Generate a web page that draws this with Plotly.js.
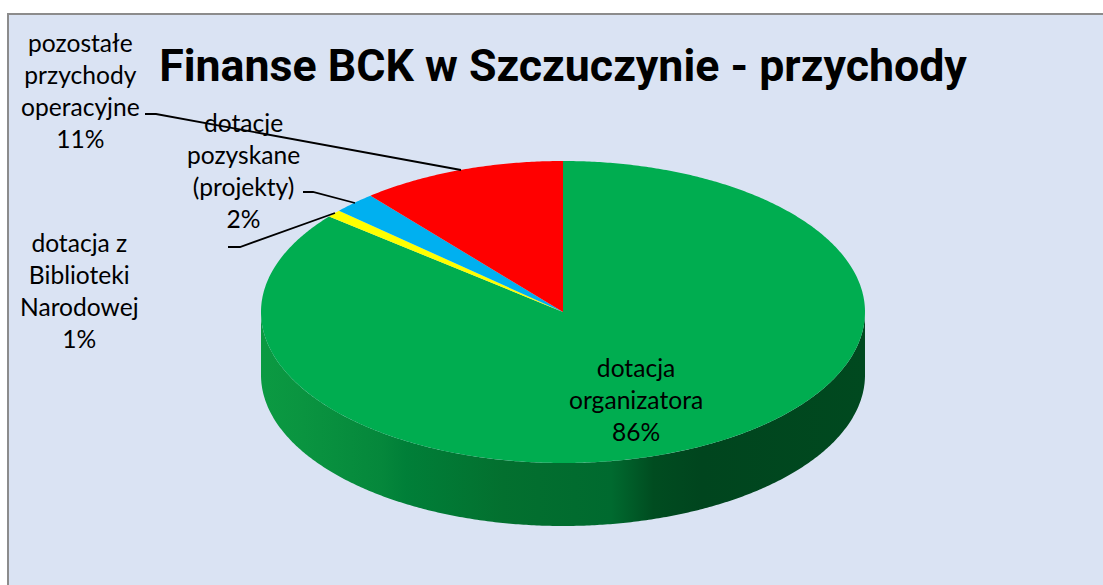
<!DOCTYPE html>
<html>
<head>
<meta charset="utf-8">
<script src="https://cdn.plot.ly/plotly-3.0.1.min.js"></script>
<style>html,body{margin:0;padding:0;background:#fff}#chart{width:1103px;height:585px}</style>
</head>
<body>
<div id="chart"></div>
<script>
// Data
const chartTitle = "Finanse BCK w Szczuczynie - przychody";
const categories = ["dotacja<br>organizatora", "dotacja z<br>Biblioteki<br>Narodowej", "dotacje<br>pozyskane<br>(projekty)", "pozostałe<br>przychody<br>operacyjne"];
const values = [85.9, 0.8, 2.3, 11.0];
const sliceColors = ["#00ad50", "#ffff00", "#00b0f0", "#ff0000"];
const labelX = [636, 79, 243, 80];
const labelY = [399, 290, 170, 90];

// Layout
const W = 1103, H = 585;
const cx = 563, cy = 312, rx = 302, ry = 151, depth = 63;
const total = values.reduce((a, b) => a + b, 0);
const pt = (deg, drop) => {
  const t = deg * Math.PI / 180;
  return [Math.sin(t), Math.cos(t) - drop];
};
const arc = (a0, a1, drop) => {
  const n = Math.max(2, Math.ceil(Math.abs(a1 - a0) * 2));
  const out = [];
  for (let i = 0; i <= n; i++) out.push(pt(a0 + (a1 - a0) * i / n, drop));
  return out;
};
const traces = [];
// Side wall (front half of the rim)
const d = depth / ry;
const wall = arc(90, 270, 0).concat(arc(270, 90, d));
traces.push({
  type: "scatter", mode: "none", fill: "toself", hoverinfo: "skip", showlegend: false,
  x: wall.map(p => p[0]), y: wall.map(p => p[1]),
  fillgradient: {
    type: "horizontal",
    colorscale: [[0, "#0b9a42"], [0.07, "#0a9440"], [0.2, "#05873b"], [0.24, "#007f38"], [0.4, "#03702f"], [0.58, "#006a2f"], [0.65, "#004c20"], [0.73, "#00451e"], [1, "#00491f"]]
  }
});
// Top face slices
let acc = 0;
values.forEach((v, i) => {
  const a0 = acc / total * 360, a1 = (acc + v) / total * 360;
  acc += v;
  const poly = [[0, 0]].concat(arc(a0, a1, 0), [[0, 0]]);
  traces.push({
    type: "scatter", mode: "none", fill: "toself", fillcolor: sliceColors[i],
    name: categories[i].replace(/<br>/g, " "), hoverinfo: "name", showlegend: false,
    x: poly.map(p => p[0]), y: poly.map(p => p[1])
  });
});

const percents = values.map(v => Math.round(v / total * 100) + "%");
const px = x => x / W, py = y => 1 - y / H;
const leader = pts => ({
  type: "path", xref: "paper", yref: "paper",
  path: pts.map((p, i) => (i ? "L" : "M") + px(p[0]) + "," + py(p[1])).join(" "),
  line: { color: "#000000", width: 1.8 }
});

const labelFont = { family: "Lato, Carlito, sans-serif", size: 24.6, color: "#000000" };
const layout = {
  width: W, height: H,
  margin: { l: 0, r: 0, t: 0, b: 0 },
  paper_bgcolor: "#ffffff", plot_bgcolor: "rgba(0,0,0,0)",
  showlegend: false,
  title: {
    text: "<b>" + chartTitle + "</b>",
    x: 563 / W, xanchor: "center", xref: "paper",
    y: 1 - 65 / H, yanchor: "middle", yref: "paper",
    font: { family: "Roboto, Inter, sans-serif", size: 44.7, color: "#000000" }
  },
  xaxis: { range: [-cx / rx, (W - cx) / rx], visible: false, fixedrange: true },
  yaxis: { range: [(cy - H) / ry, cy / ry], visible: false, fixedrange: true },
  shapes: [
    { type: "rect", xref: "paper", yref: "paper", layer: "below",
      x0: px(8), x1: px(W + 10), y0: py(14), y1: py(H + 10),
      fillcolor: "#dae3f3", line: { color: "#8c8c8c", width: 2 } },
    leader([[145, 114], [156, 114], [461, 170]]),
    leader([[303, 192], [313, 192], [355, 203]]),
    leader([[228, 247], [240, 247], [335, 213]])
  ],
  annotations: categories.map((c, i) => ({
    xref: "paper", yref: "paper",
    x: px(labelX[i]), y: py(labelY[i]),
    xanchor: "center", yanchor: "middle", align: "center", showarrow: false,
    text: c + "<br>" + percents[i], font: labelFont
  }))
};
Plotly.newPlot("chart", traces, layout, { displayModeBar: false, staticPlot: true });
</script>
</body>
</html>
